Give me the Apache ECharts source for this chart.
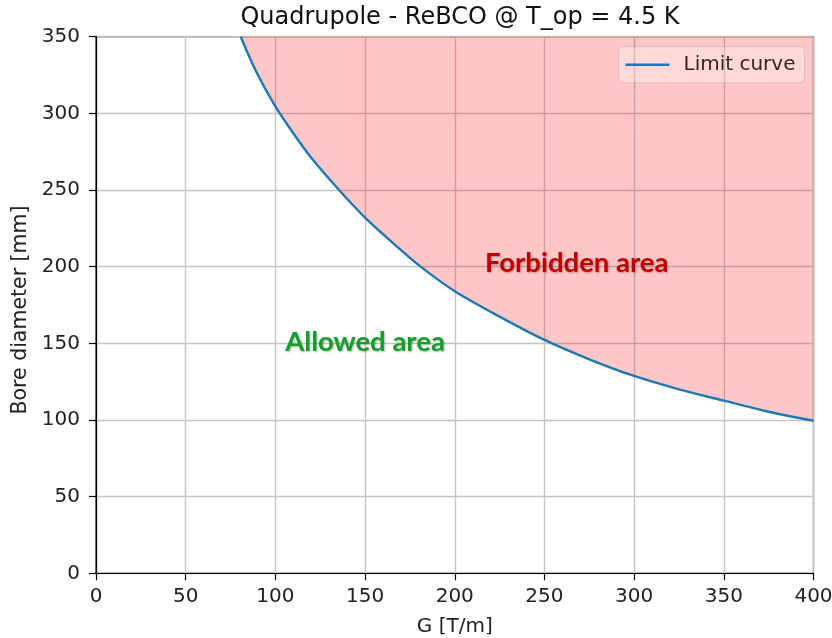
<!DOCTYPE html>
<html>
<head>
<meta charset="utf-8">
<script src="https://cdn.jsdelivr.net/npm/echarts@6/dist/echarts.min.js"></script>
<style>
  html, body { margin: 0; padding: 0; background: #fff; }
  #chart { width: 832px; height: 638px; }
</style>
</head>
<body>
<div id="chart"></div>
<script>
// Limit curve: gradient G [T/m] vs. maximum bore diameter [mm]
const gradient = [80.7, 89, 100, 110, 120, 135.5, 150, 165, 181, 200, 225, 250, 275, 300, 325, 350, 375, 400];
const boreDiameter = [350, 328, 304.5, 287, 271, 250, 232, 216, 200, 184, 167.4, 152.2, 139.6, 128.7, 120, 112.6, 105.4, 99.5];

// Region labels placed in data coordinates
const regionNames = ['Forbidden area', 'Allowed area'];
const regionG = [268, 150];
const regionD = [202, 151];
const regionColors = ['#c00000', '#14a028'];

const xTicks = { min: 0, max: 400, step: 50 };
const yTicks = { min: 0, max: 350, step: 50 };

const chart = echarts.init(document.getElementById('chart'));
const axisFont = 'DejaVu Sans';

const curveData = gradient.map((g, i) => [g, boreDiameter[i]]);
const regionData = regionNames.map((name, i) => ({
  value: [regionG[i], regionD[i]],
  label: { formatter: name, color: regionColors[i] }
}));

chart.setOption({
  animation: false,
  backgroundColor: '#ffffff',
  title: {
    text: 'Quadrupole - ReBCO @ T_op = 4.5 K',
    left: 455,
    textAlign: 'center',
    top: 1,
    textStyle: { fontFamily: axisFont, fontSize: 24, fontWeight: 'normal', color: '#111' }
  },
  legend: {
    data: [{ name: 'Limit curve', icon: 'rect' }],
    left: 618.5,
    top: 46.7,
    padding: [8, 9, 8, 7],
    itemWidth: 44,
    itemHeight: 2.4,
    backgroundColor: 'rgba(255,255,255,0.3)',
    borderColor: 'rgba(190,160,160,0.45)',
    borderWidth: 1,
    borderRadius: 4,
    textStyle: { fontFamily: axisFont, fontSize: 20, color: '#3a2222', padding: [0, 0, 0, 9] }
  },
  grid: {
    left: 96, right: 18.5, top: 36.7, bottom: 64.7,
    outerBoundsMode: 'none',
    containLabel: false,
    show: true, borderColor: '#000', borderWidth: 1.2, backgroundColor: 'transparent'
  },
  xAxis: {
    type: 'value',
    min: xTicks.min, max: xTicks.max, interval: xTicks.step,
    name: 'G [T/m]',
    nameLocation: 'middle',
    nameGap: 43,
    nameTextStyle: { fontFamily: axisFont, fontSize: 20, color: '#222' },
    axisLine: { lineStyle: { color: '#000', width: 1.2 } },
    axisTick: { show: true, inside: false, length: 7, lineStyle: { color: '#000', width: 1.2 } },
    axisLabel: { fontFamily: axisFont, fontSize: 20, color: '#222', margin: 13 },
    splitLine: { show: true, lineStyle: { color: '#c4c4c4', width: 1.4 } }
  },
  yAxis: {
    type: 'value',
    min: yTicks.min, max: yTicks.max, interval: yTicks.step,
    name: 'Bore diameter [mm]',
    nameLocation: 'middle',
    nameGap: 63,
    nameTextStyle: { fontFamily: axisFont, fontSize: 20.5, color: '#222', padding: [0, 10, 0, 0] },
    axisLine: { lineStyle: { color: '#000', width: 1.2 } },
    axisTick: { show: true, inside: false, length: 7, lineStyle: { color: '#000', width: 1.2 } },
    axisLabel: { fontFamily: axisFont, fontSize: 20, color: '#222', margin: 16 },
    splitLine: { show: true, lineStyle: { color: '#c4c4c4', width: 1.4 } }
  },
  series: [
    {
      name: 'Limit curve',
      type: 'line',
      data: curveData,
      symbol: 'none',
      smooth: 0.3,
      lineStyle: { color: '#1f77b4', width: 2.4 },
      itemStyle: { color: '#1f77b4' },
      areaStyle: { origin: 'end', color: 'rgba(255,0,0,0.22)', opacity: 1 },
      z: 3
    },
    {
      name: 'regions',
      type: 'scatter',
      data: regionData,
      symbolSize: 0,
      silent: true,
      itemStyle: { opacity: 1 },
      z: 5,
      label: {
        show: true,
        position: 'inside',
        fontFamily: 'Lato',
        fontWeight: 'bold',
        fontSize: 27.5,
        opacity: 1,
        textShadowColor: 'rgba(0,0,0,0.3)',
        textShadowBlur: 2,
        textShadowOffsetX: 1,
        textShadowOffsetY: 1
      }
    }
  ]
});
</script>
</body>
</html>
